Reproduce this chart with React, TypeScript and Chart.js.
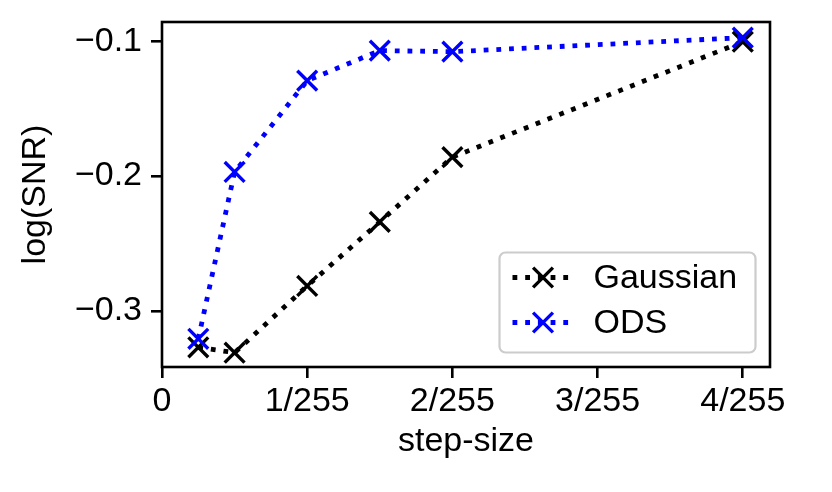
import { useEffect, useRef } from 'react';
import { Chart, registerables } from 'chart.js';

Chart.register(...registerables);

// step sizes in units of 1/255
const stepSizes = [0.25, 0.5, 1, 1.5, 2, 4];
const gaussian = [-0.327, -0.331, -0.2815, -0.234, -0.186, -0.1004];
const ods = [-0.3207, -0.197, -0.1293, -0.107, -0.1078, -0.0974];
const seriesNames = ['Gaussian', 'ODS'];
const seriesColors = ['#000000', '#0000ff'];
const xTicks = [0, 1, 2, 3, 4];
const xTickLabels = ['0', '1/255', '2/255', '3/255', '4/255'];
const yTicks = [-0.3, -0.2, -0.1];
const yTickLabels = ['\u22120.3', '\u22120.2', '\u22120.1'];
const xTitle = 'step-size';
const yTitle = 'log(SNR)';

const FONT = '"Liberation Sans", Arial, Helvetica, sans-serif';
const FS = 34;
const LW = 4.8;
const DASH = [4.8, 7.9];

function drawX(ctx: CanvasRenderingContext2D, x: number, y: number, r: number, color: string, w: number) {
  const d = r * Math.SQRT1_2;
  ctx.save();
  ctx.setLineDash([]);
  ctx.strokeStyle = color;
  ctx.lineWidth = w;
  ctx.beginPath();
  ctx.moveTo(x - d, y - d);
  ctx.lineTo(x + d, y + d);
  ctx.moveTo(x - d, y + d);
  ctx.lineTo(x + d, y - d);
  ctx.stroke();
  ctx.restore();
}

const framePlugin = {
  id: 'frame',
  afterDatasetsDraw(chart: any) {
    const { ctx, chartArea: ca } = chart;
    ctx.save();
    ctx.strokeStyle = '#000';
    ctx.lineWidth = 2.6;
    ctx.setLineDash([]);
    ctx.strokeRect(ca.left, ca.top, ca.right - ca.left, ca.bottom - ca.top);
    ctx.restore();
  },
};

const legendPlugin = {
  id: 'mplLegend',
  afterDraw(chart: any) {
    const { ctx, chartArea: ca } = chart;
    const w = 256;
    const h = 100;
    const right = ca.right - 14.5;
    const bottom = ca.bottom - 14.5;
    const left = right - w;
    const top = bottom - h;
    ctx.save();
    ctx.beginPath();
    ctx.roundRect(left, top, w, h, 6);
    ctx.fillStyle = 'rgba(255,255,255,0.8)';
    ctx.fill();
    ctx.lineWidth = 2.2;
    ctx.strokeStyle = '#cccccc';
    ctx.stroke();
    const datasets = [...chart.data.datasets].sort((a: any, b: any) => a.legendIndex - b.legendIndex);
    datasets.forEach((ds: any, i: number) => {
      const cy = top + 25 + i * 45;
      const x0 = left + 13;
      const x1 = left + 74;
      ctx.beginPath();
      ctx.setLineDash(ds.borderDash);
      ctx.lineDashOffset = 0;
      ctx.lineCap = 'butt';
      ctx.lineWidth = ds.borderWidth;
      ctx.strokeStyle = ds.borderColor;
      ctx.moveTo(x0, cy);
      ctx.lineTo(x1, cy);
      ctx.stroke();
      ctx.setLineDash([]);
      drawX(ctx, (x0 + x1) / 2, cy, ds.pointRadius, ds.borderColor, ds.pointBorderWidth);
      ctx.fillStyle = '#000';
      ctx.font = `${FS}px ${FONT}`;
      ctx.textBaseline = 'middle';
      ctx.textAlign = 'left';
      ctx.fillText(ds.label, left + 94, cy + 1);
    });
    ctx.restore();
  },
};

export default function App() {
  const ref = useRef<HTMLCanvasElement | null>(null);

  useEffect(() => {
    document.body.style.margin = '0';
    const canvas = ref.current;
    if (!canvas) return;
    const series = [gaussian, ods];
    const chart = new Chart(canvas, {
      type: 'line',
      data: {
        datasets: series.map((vals, i) => ({
          label: seriesNames[i],
          legendIndex: i,
          order: series.length - i,
          data: stepSizes.map((x, j) => ({ x, y: vals[j] })),
          borderColor: seriesColors[i],
          backgroundColor: seriesColors[i],
          borderWidth: LW,
          borderDash: DASH,
          borderCapStyle: 'butt',
          fill: false,
          tension: 0,
          pointStyle: 'crossRot',
          pointRadius: 14,
          pointBorderWidth: 3.4,
          pointBorderColor: seriesColors[i],
          pointBackgroundColor: seriesColors[i],
          clip: false,
        })) as any,
      },
      options: {
        animation: false,
        responsive: false,
        maintainAspectRatio: false,
        devicePixelRatio: 1,
        layout: { padding: { left: 0, right: 62, top: 22, bottom: 0 } },
        plugins: { legend: { display: false }, tooltip: { enabled: false } },
        scales: {
          x: {
            type: 'linear',
            position: 'bottom',
            min: 0,
            max: 4.1875,
            afterBuildTicks: (axis: any) => {
              axis.ticks = xTicks.map((v) => ({ value: v }));
            },
            afterFit: (axis: any) => {
              axis.height = 125;
              axis.paddingLeft = 0;
              axis.paddingRight = 0;
              axis.paddingTop = 0;
              axis.paddingBottom = 0;
            },
            border: { display: false },
            grid: {
              display: true,
              drawOnChartArea: false,
              drawTicks: true,
              tickLength: 11,
              color: '#000',
              lineWidth: 2.6,
            },
            ticks: {
              color: '#000',
              font: { family: FONT, size: FS },
              padding: 3,
              maxRotation: 0,
              autoSkip: false,
              callback: (v: any) => {
                const k = xTicks.indexOf(Number(v));
                return k >= 0 ? xTickLabels[k] : '';
              },
            },
            title: {
              display: true,
              text: xTitle,
              color: '#000',
              font: { family: FONT, size: FS },
              padding: { top: 0, bottom: 30 },
            },
          },
          y: {
            type: 'linear',
            position: 'left',
            min: -0.3416,
            max: -0.0858,
            afterBuildTicks: (axis: any) => {
              axis.ticks = yTicks.map((v) => ({ value: v }));
            },
            afterFit: (axis: any) => {
              axis.width = 162;
              axis.paddingLeft = 0;
              axis.paddingRight = 0;
              axis.paddingTop = 0;
              axis.paddingBottom = 0;
            },
            border: { display: false },
            grid: {
              display: true,
              drawOnChartArea: false,
              drawTicks: true,
              tickLength: 11,
              color: '#000',
              lineWidth: 2.6,
            },
            ticks: {
              color: '#000',
              font: { family: FONT, size: FS },
              padding: 9,
              autoSkip: false,
              callback: (v: any) => {
                const k = yTicks.findIndex((t) => Math.abs(t - Number(v)) < 1e-9);
                return k >= 0 ? yTickLabels[k] : '';
              },
            },
            title: {
              display: true,
              text: yTitle,
              color: '#000',
              font: { family: FONT, size: FS },
              padding: { top: 15, bottom: 0 },
            },
          },
        },
      },
      plugins: [framePlugin, legendPlugin],
    });
    return () => chart.destroy();
  }, []);

  return (
    <div style={{ width: 832, height: 492 }}>
      <canvas ref={ref} width={832} height={492} style={{ display: 'block', width: 832, height: 492 }} />
    </div>
  );
}
